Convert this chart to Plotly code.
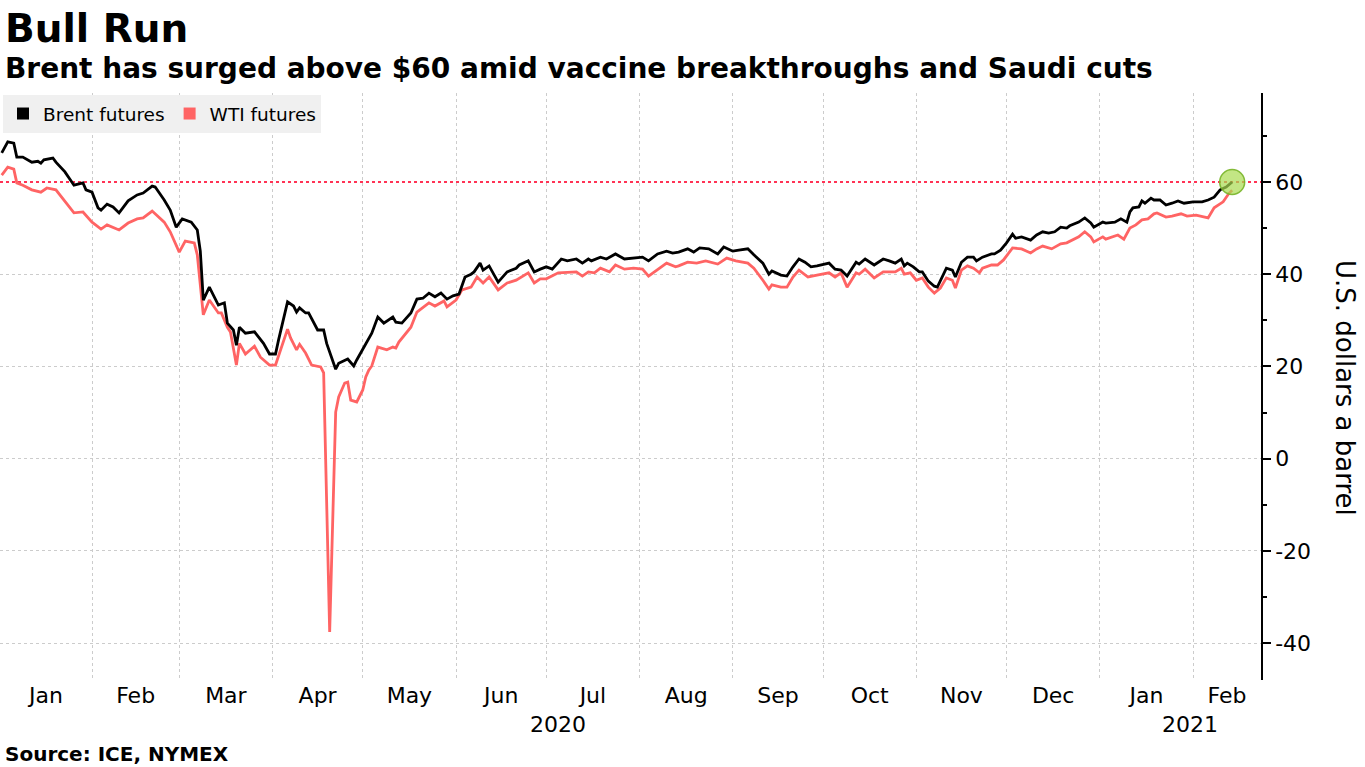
import plotly.graph_objects as go
import pandas as pd

# ---------------- data ----------------
brent_dates = [
    "2020-01-02","2020-01-04","2020-01-06","2020-01-07","2020-01-09","2020-01-12","2020-01-14","2020-01-15","2020-01-16","2020-01-19","2020-01-20","2020-01-23","2020-01-26","2020-01-29","2020-01-30",
    "2020-02-01","2020-02-03","2020-02-04","2020-02-06","2020-02-08","2020-02-10","2020-02-13","2020-02-16","2020-02-18","2020-02-21","2020-02-22","2020-02-25","2020-02-27","2020-02-29",
    "2020-03-02","2020-03-05","2020-03-07","2020-03-08","2020-03-09","2020-03-11","2020-03-12","2020-03-14","2020-03-16","2020-03-17","2020-03-19","2020-03-20","2020-03-21","2020-03-23","2020-03-26","2020-03-29","2020-03-31",
    "2020-04-02","2020-04-03","2020-04-06","2020-04-08","2020-04-09","2020-04-10","2020-04-12","2020-04-13","2020-04-16","2020-04-18","2020-04-19","2020-04-22","2020-04-23","2020-04-26","2020-04-28","2020-04-29",
    "2020-05-02","2020-05-04","2020-05-06","2020-05-08","2020-05-11","2020-05-12","2020-05-14","2020-05-17","2020-05-19","2020-05-21","2020-05-23","2020-05-25","2020-05-27","2020-05-29","2020-05-31",
    "2020-06-02","2020-06-04","2020-06-06","2020-06-07","2020-06-09","2020-06-10","2020-06-12","2020-06-15","2020-06-16","2020-06-18","2020-06-21","2020-06-22","2020-06-25","2020-06-27","2020-06-29",
    "2020-07-01","2020-07-03","2020-07-06","2020-07-08","2020-07-11","2020-07-13","2020-07-15","2020-07-16","2020-07-19","2020-07-21","2020-07-24","2020-07-27","2020-07-30",
    "2020-08-02","2020-08-04","2020-08-07","2020-08-10","2020-08-12","2020-08-14","2020-08-17","2020-08-19","2020-08-21","2020-08-24","2020-08-27","2020-08-29",
    "2020-09-01","2020-09-03","2020-09-06","2020-09-08","2020-09-11","2020-09-13","2020-09-14","2020-09-17","2020-09-19","2020-09-21","2020-09-23","2020-09-25","2020-09-27","2020-09-29",
    "2020-10-02","2020-10-03","2020-10-05","2020-10-07","2020-10-09","2020-10-12","2020-10-13","2020-10-15","2020-10-18","2020-10-21","2020-10-23","2020-10-25","2020-10-27","2020-10-28","2020-10-29","2020-10-31",
    "2020-11-02","2020-11-03","2020-11-05","2020-11-07","2020-11-08","2020-11-09","2020-11-11","2020-11-13","2020-11-14","2020-11-16","2020-11-18","2020-11-20","2020-11-21","2020-11-23","2020-11-26","2020-11-27","2020-11-29",
    "2020-12-01","2020-12-03","2020-12-04","2020-12-06","2020-12-09","2020-12-11","2020-12-13","2020-12-15","2020-12-17","2020-12-19","2020-12-21","2020-12-22","2020-12-25","2020-12-27","2020-12-29","2020-12-30",
    "2021-01-02","2021-01-03","2021-01-06","2021-01-08","2021-01-10","2021-01-11","2021-01-12","2021-01-14","2021-01-15","2021-01-16","2021-01-18","2021-01-19","2021-01-21","2021-01-23","2021-01-25","2021-01-27","2021-01-29",
    "2021-02-01","2021-02-04","2021-02-06","2021-02-08","2021-02-10","2021-02-12","2021-02-14",
]
brent_values = [
    66.3,68.7,68.4,65.4,65.4,64.3,64.5,64.1,64.8,65.2,64.3,62.2,59.3,59.8,58.3,
    57.8,54.4,53.9,55.2,54.6,53.3,55.9,57.2,57.6,59.1,58.9,56.1,53.9,50.2,
    52.0,51.3,49.6,45.0,34.4,37.2,35.9,33.3,33.8,29.4,27.9,24.6,28.5,27.2,27.5,25.0,22.7,
    22.7,25.7,34.0,33.1,31.8,32.7,31.6,31.6,27.9,27.9,25.0,19.4,20.7,21.6,20.1,21.4,
    25.0,27.2,30.7,29.4,30.7,29.6,29.4,31.6,34.6,34.8,35.9,35.1,35.9,34.6,35.3,
    35.7,39.4,40.0,40.5,42.4,40.9,41.8,38.3,39.0,40.5,41.3,42.0,42.9,40.5,41.1,
    41.6,41.1,43.3,42.9,43.3,42.4,43.3,42.9,43.7,43.3,44.4,43.3,43.5,
    43.7,42.9,44.4,45.0,44.6,44.8,45.5,44.8,45.7,45.5,44.4,45.9,
    45.0,45.2,45.5,44.2,42.4,40.0,40.7,39.8,39.6,41.6,43.3,42.6,41.6,41.8,
    42.2,42.4,41.1,40.9,39.6,42.6,42.2,43.3,42.0,43.3,42.9,42.4,43.3,41.8,42.4,41.6,
    40.5,40.5,38.5,37.4,37.2,38.7,41.3,40.9,39.4,42.6,43.7,43.7,42.9,43.7,44.4,44.4,45.2,
    46.8,48.7,47.8,48.1,47.4,48.5,49.2,48.9,49.2,50.2,50.0,50.5,51.3,52.2,51.1,50.2,
    51.3,51.1,51.3,52.0,51.3,53.5,54.4,54.6,55.9,55.4,56.5,56.1,56.1,55.0,55.4,55.9,55.4,
    55.7,55.7,56.1,56.7,58.3,58.9,60.0,
]

wti_dates = [
    "2020-01-02","2020-01-04","2020-01-06","2020-01-07","2020-01-09","2020-01-12","2020-01-15","2020-01-17","2020-01-20","2020-01-23","2020-01-26","2020-01-29",
    "2020-02-01","2020-02-04","2020-02-06","2020-02-10","2020-02-13","2020-02-16","2020-02-18","2020-02-21","2020-02-25","2020-02-27",
    "2020-03-01","2020-03-03","2020-03-06","2020-03-07","2020-03-09","2020-03-11","2020-03-14","2020-03-15","2020-03-17","2020-03-18","2020-03-20","2020-03-21","2020-03-23","2020-03-26","2020-03-28","2020-03-31",
    "2020-04-02","2020-04-06","2020-04-07","2020-04-09","2020-04-10","2020-04-12","2020-04-14","2020-04-17","2020-04-18","2020-04-20","2020-04-22","2020-04-23","2020-04-25","2020-04-26","2020-04-27","2020-04-29",
    "2020-05-01","2020-05-02","2020-05-03","2020-05-04","2020-05-06","2020-05-09","2020-05-11","2020-05-12","2020-05-13","2020-05-17","2020-05-19","2020-05-23","2020-05-25","2020-05-28","2020-05-29",
    "2020-06-01","2020-06-03","2020-06-06","2020-06-08","2020-06-10","2020-06-12","2020-06-15","2020-06-18","2020-06-21","2020-06-25","2020-06-27","2020-06-29",
    "2020-07-01","2020-07-05","2020-07-11","2020-07-13","2020-07-15","2020-07-17","2020-07-19","2020-07-22","2020-07-24","2020-07-27","2020-07-30",
    "2020-08-02","2020-08-04","2020-08-07","2020-08-10","2020-08-13","2020-08-14","2020-08-17","2020-08-20","2020-08-23","2020-08-27","2020-08-30",
    "2020-09-02","2020-09-06","2020-09-08","2020-09-11","2020-09-13","2020-09-14","2020-09-17","2020-09-19","2020-09-21","2020-09-23","2020-09-26","2020-09-29",
    "2020-10-03","2020-10-05","2020-10-07","2020-10-09","2020-10-12","2020-10-13","2020-10-15","2020-10-18","2020-10-21","2020-10-25","2020-10-27","2020-10-28","2020-10-30",
    "2020-11-01","2020-11-03","2020-11-05","2020-11-07","2020-11-09","2020-11-11","2020-11-13","2020-11-14","2020-11-16","2020-11-18","2020-11-20","2020-11-22","2020-11-23","2020-11-26","2020-11-28","2020-11-30",
    "2020-12-03","2020-12-06","2020-12-09","2020-12-11","2020-12-13","2020-12-16","2020-12-19","2020-12-21","2020-12-25","2020-12-27","2020-12-29","2020-12-30",
    "2021-01-02","2021-01-03","2021-01-07","2021-01-09","2021-01-11","2021-01-13","2021-01-15","2021-01-17","2021-01-19","2021-01-20","2021-01-23","2021-01-25","2021-01-28","2021-01-30",
    "2021-02-02","2021-02-06","2021-02-08","2021-02-11","2021-02-13","2021-02-14",
]
wti_values = [
    61.5,63.2,62.8,59.8,59.3,58.3,57.8,58.7,58.3,55.7,53.3,53.5,
    51.3,49.8,50.7,49.6,51.1,52.0,52.2,53.7,51.3,49.2,
    44.8,47.2,46.8,44.2,31.2,34.4,31.6,31.6,28.5,27.5,20.3,25.0,22.7,24.4,22.0,20.3,
    20.3,28.1,26.2,23.6,24.8,22.9,20.3,19.9,18.6,-37.6,10.1,13.4,16.4,16.6,12.7,12.3,
    14.9,17.7,19.2,20.1,24.2,23.6,24.2,24.0,25.3,28.5,31.8,33.8,33.1,34.2,32.9,
    34.4,36.6,37.2,39.4,38.1,39.4,36.6,38.1,38.7,40.3,38.1,39.0,
    39.0,40.3,40.5,39.6,40.5,40.3,41.3,40.5,42.0,41.1,41.3,
    41.1,39.6,41.1,42.4,41.6,41.8,42.6,42.4,42.9,42.2,43.5,
    42.9,42.4,41.3,38.7,36.8,37.7,37.2,37.2,39.4,40.9,39.4,39.8,
    40.3,39.4,40.3,37.2,40.3,40.0,41.1,39.2,40.5,40.5,41.3,40.0,40.3,
    38.7,39.2,37.2,35.9,37.0,39.2,38.7,37.0,40.9,41.8,41.3,40.3,41.3,42.0,42.0,43.1,
    45.7,45.5,44.6,45.5,46.1,45.5,46.6,46.8,48.1,49.2,48.1,47.0,
    48.1,47.6,48.5,47.6,50.0,50.7,51.8,52.0,53.1,53.3,52.4,52.6,53.1,52.6,
    52.8,52.2,54.4,55.7,57.6,58.2,
]

month_starts = ["2020-01-01","2020-02-01","2020-03-01","2020-04-01","2020-05-01","2020-06-01",
                "2020-07-01","2020-08-01","2020-09-01","2020-10-01","2020-11-01","2020-12-01",
                "2021-01-01","2021-02-01"]
month_names = ["Jan","Feb","Mar","Apr","May","Jun","Jul","Aug","Sep","Oct","Nov","Dec","Jan","Feb"]
year_labels = ["2020", "2021"]
y_ticks = [-40, -20, 0, 20, 40, 60]
y_tick_text = ["-40", "-20", "0", "20", "40", "60"]
threshold = 60

# ---------------- layout helpers ----------------
x_start = pd.Timestamp("2020-01-01 10:00")
x_end = pd.Timestamp("2021-02-23 14:00")
ms = [pd.Timestamp(m) for m in month_starts]
label_pos = []
for i, s in enumerate(ms):
    e = ms[i + 1] if i + 1 < len(ms) else x_end
    s2 = max(s, x_start)
    e2 = min(e, x_end)
    label_pos.append(s2 + (e2 - s2) / 2)

year_pos = [pd.Timestamp("2020-07-05"), pd.Timestamp("2021-01-31")]

FONT = "DejaVu Sans"
BRENT = "#000000"
WTI = "#ff6464"

fig = go.Figure()
# $60 reference line (dotted, red)
fig.add_trace(go.Scatter(x=[x_start, x_end], y=[threshold, threshold], mode="lines",
                         line=dict(color="#ff3355", width=2.2, dash="dot"),
                         showlegend=False, hoverinfo="skip"))
fig.add_trace(go.Scatter(x=wti_dates, y=wti_values, mode="lines",
                         line=dict(color=WTI, width=2.8), showlegend=False,
                         hoverinfo="skip"))
fig.add_trace(go.Scatter(x=brent_dates, y=brent_values, mode="lines",
                         line=dict(color=BRENT, width=2.8), showlegend=False,
                         hoverinfo="skip"))
# legend entries (square swatches)
fig.add_trace(go.Scatter(x=[None], y=[None], mode="markers", name="Brent futures",
                         marker=dict(symbol="square", size=12, color=BRENT)))
fig.add_trace(go.Scatter(x=[None], y=[None], mode="markers", name="WTI futures",
                         marker=dict(symbol="square", size=12, color=WTI)))
# highlight circle at the latest Brent value
fig.add_trace(go.Scatter(x=[brent_dates[-1]], y=[brent_values[-1]], mode="markers",
                         marker=dict(size=25, color="rgba(170,220,80,0.7)",
                                     line=dict(color="rgba(120,180,40,0.9)", width=1.5)),
                         showlegend=False, hoverinfo="skip"))

fig.update_layout(
    width=1365, height=767,
    margin=dict(l=0, r=104, t=93, b=87),
    paper_bgcolor="white", plot_bgcolor="white",
    font=dict(family=FONT, color="#000000"),
    legend=dict(orientation="h", x=0.0024, y=0.9966, xanchor="left", yanchor="top",
                bgcolor="#f0f0f0", font=dict(size=18.5, family=FONT),
                itemclick=False, itemdoubleclick=False),
    xaxis=dict(type="date", range=[x_start, x_end],
               tickmode="array", tickvals=label_pos, ticktext=month_names,
               ticks="", showgrid=False, showline=False, zeroline=False,
               tickfont=dict(size=22, family=FONT, color="#000000"),
               minor=dict(tick0="2020-01-01", dtick="M1", showgrid=True,
                          gridcolor="#cccccc", griddash="dot", gridwidth=1, ticks="")),
    yaxis=dict(side="right", range=[-48, 79.3], tickmode="array", tickvals=y_ticks,
               ticktext=y_tick_text,
               ticks="outside", ticklen=8, tickwidth=1.5, tickcolor="#000000",
               showline=True, linecolor="#000000", linewidth=1.5,
               showgrid=True, gridcolor="#cccccc", griddash="dot", gridwidth=1,
               zeroline=False,
               tickfont=dict(size=22, family=FONT, color="#000000"),
               minor=dict(tick0=0, dtick=10, ticks="outside", ticklen=4,
                          tickcolor="#000000", tickwidth=1.5, showgrid=False)),
)

ann = []
ann.append(dict(text="<b>Bull Run</b>", xref="paper", yref="paper", x=0.0024, y=(680 - 28) / 587,
                xanchor="left", yanchor="middle", showarrow=False,
                font=dict(size=39, family=FONT, color="#000000")))
ann.append(dict(text="<b>Brent has surged above $60 amid vaccine breakthroughs and Saudi cuts</b>",
                xref="paper", yref="paper", x=0.0024, y=(680 - 68) / 587,
                xanchor="left", yanchor="middle", showarrow=False,
                font=dict(size=28, family=FONT, color="#000000")))
ann.append(dict(text="<b>Source: ICE, NYMEX</b>", xref="paper", yref="paper", x=0.0024,
                y=(680 - 754) / 587, xanchor="left", yanchor="middle", showarrow=False,
                font=dict(size=20, family=FONT, color="#000000")))
ann.append(dict(text="U.S. dollars a barrel", xref="paper", yref="paper", x=1345 / 1261,
                y=(680 - 388) / 587, xanchor="center", yanchor="middle", textangle=90,
                showarrow=False, font=dict(size=26, family=FONT, color="#000000")))
for lbl, pos in zip(year_labels, year_pos):
    ann.append(dict(text=lbl, xref="x", yref="paper", x=pos, y=(680 - 724) / 587,
                    xanchor="center", yanchor="middle", showarrow=False,
                    font=dict(size=22, family=FONT, color="#000000")))
fig.update_layout(annotations=ann)

fig.write_html("out.html", config={"displayModeBar": False},
               post_script="document.body.style.margin='0px';document.body.style.overflow='hidden';")
